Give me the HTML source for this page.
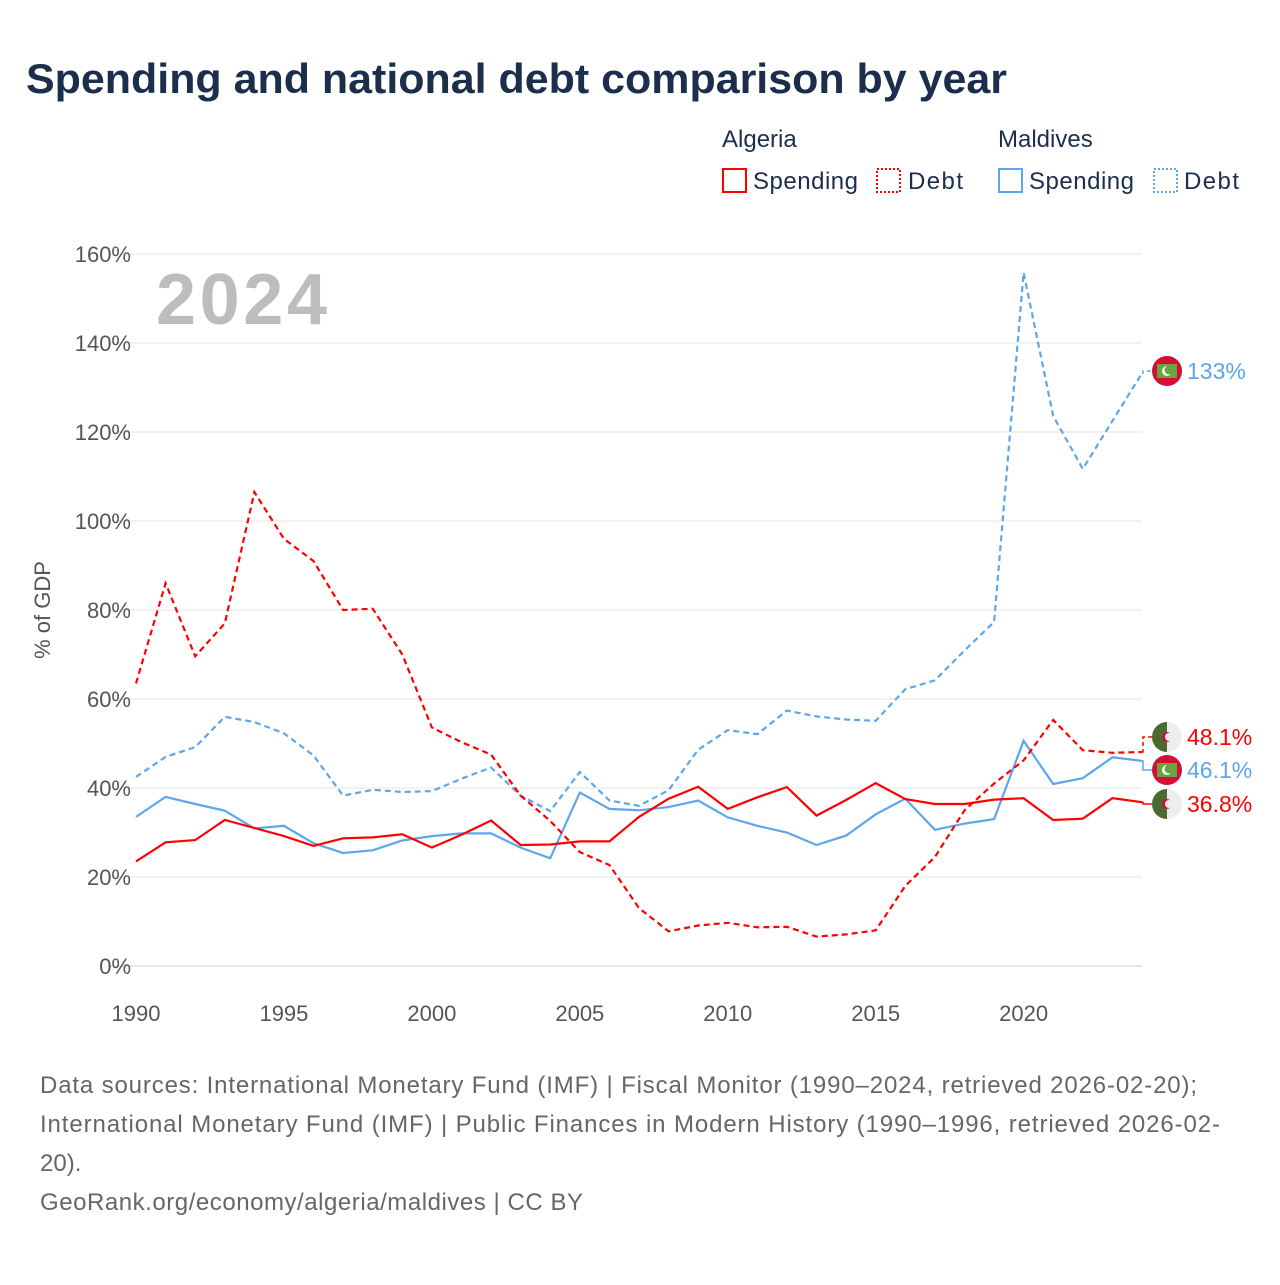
<!DOCTYPE html>
<html><head><meta charset="utf-8"><style>
body{margin:0;background:#fff;width:1280px;height:1280px;overflow:hidden;font-family:"Liberation Sans",sans-serif}
svg text{font-family:"Liberation Sans",sans-serif}
</style></head><body>
<svg id="chart" width="1280" height="1280" xmlns="http://www.w3.org/2000/svg">
<text x="26" y="93" font-size="42" font-weight="bold" fill="#1b2e4b" textLength="981" lengthAdjust="spacingAndGlyphs">Spending and national debt comparison by year</text>
<g font-size="24" fill="#1b2e4b">
<text x="722" y="147">Algeria</text><text x="998" y="147">Maldives</text>
<rect x="723" y="169" width="23" height="23" fill="none" stroke="#f00" stroke-width="2"/><text x="753" y="189" textLength="105">Spending</text>
<rect x="877" y="169" width="23" height="23" fill="none" stroke="#f00" stroke-width="2" stroke-dasharray="2,2"/><text x="908" y="189" textLength="55">Debt</text>
<rect x="999" y="169" width="23" height="23" fill="none" stroke="#5ea6ec" stroke-width="2"/><text x="1029" y="189" textLength="105">Spending</text>
<rect x="1154" y="169" width="23" height="23" fill="none" stroke="#5ea6ec" stroke-width="2" stroke-dasharray="2,2"/><text x="1184" y="189" textLength="55">Debt</text>
</g>
<text x="156" y="324" font-size="72" font-weight="bold" fill="#bdbdbd" textLength="171">2024</text>
<text transform="translate(50,610) rotate(-90)" text-anchor="middle" font-size="22" fill="#555">% of GDP</text>
<g id="grid"></g><g id="series"></g><g id="labels"></g>
<g font-size="24" fill="#666">
<text x="40" y="1093" textLength="1157">Data sources: International Monetary Fund (IMF) | Fiscal Monitor (1990–2024, retrieved 2026-02-20);</text>
<text x="40" y="1132" textLength="1180">International Monetary Fund (IMF) | Public Finances in Modern History (1990–1996, retrieved 2026-02-</text>
<text x="40" y="1171">20).</text>
<text x="40" y="1210" textLength="543">GeoRank.org/economy/algeria/maldives | CC BY</text>
</g>
</svg>
<script>
const years=[];for(let y=1990;y<=2024;y++)years.push(y);
const algSpending=[23.5,27.8,28.3,32.8,31,29.2,27,28.7,28.9,29.6,26.6,29.5,32.7,27.2,27.3,28,28,33.5,37.6,40.3,35.3,37.9,40.2,33.8,37.3,41.1,37.5,36.4,36.4,37.4,37.7,32.8,33.1,37.7,36.8];
const algDebt=[63.5,86,69.6,77,106.5,96,91,80,80.3,70,53.6,50.3,47.5,38.3,32.6,25.6,22.7,13,7.8,9.1,9.7,8.7,8.8,6.6,7.1,8,18,24.5,35,41,46.2,55.3,48.5,47.9,48.1];
const mdvSpending=[33.5,38,36.4,34.9,30.9,31.5,27.6,25.4,26,28.2,29.2,29.8,29.8,26.6,24.2,39,35.3,35,35.7,37.2,33.4,31.5,30,27.2,29.3,34.1,37.6,30.6,32,33,50.6,40.9,42.2,46.9,46.1];
const mdvDebt=[42.5,47,49.2,56,54.8,52.3,47.3,38.3,39.6,39.1,39.3,42.1,44.6,38.3,34.8,43.6,37.2,36,39.5,48.6,53,52.1,57.4,56.1,55.4,55.1,62.2,64.2,70.9,77.3,155.8,123.6,111.7,122.5,133.2];
const yTicks=[0,20,40,60,80,100,120,140,160];
const xTicks=[1990,1995,2000,2005,2010,2015,2020];
const NS='http://www.w3.org/2000/svg';
const X=y=>136+(y-1990)*(1142-136)/34;
const Y=v=>966-v*(966-254)/160;
function mk(t,a,p){const e=document.createElementNS(NS,t);for(const k in a)e.setAttribute(k,a[k]);p.appendChild(e);return e;}
const grid=document.getElementById('grid');
yTicks.forEach(v=>{
 const l=mk('line',{x1:108,x2:1142,y1:Y(v),y2:Y(v),stroke:v?'#e6e6e6':'#ccc','stroke-width':1},grid);
 
 
 const t=mk('text',{x:131,y:Y(v)+8,'text-anchor':'end','font-size':22,fill:'#555'},grid);t.textContent=v+'%';
 
 
});
xTicks.forEach(y=>{
 const t=mk('text',{x:X(y),y:1021,'text-anchor':'middle','font-size':22,fill:'#555'},grid);t.textContent=y;
 
 
});
const ser=document.getElementById('series');
function line(d,c,dash,name){
 const p=mk('path',{d:d.map((v,i)=>(i?'L':'M')+X(years[i]).toFixed(1)+','+Y(v).toFixed(1)).join(''),fill:'none',stroke:c,'stroke-width':2.2,'stroke-dasharray':dash||'none'},ser);
 
 
}
line(mdvDebt,'#5ea6ec','6,4','maldives-debt-line');
line(mdvSpending,'#5ea6ec','','maldives-spending-line');
line(algDebt,'#f00','6,4','algeria-debt-line');
line(algSpending,'#f00','','algeria-spending-line');
const lab=document.getElementById('labels');
function flag(cy,country,val,c,dash,name){
 const last=country==='dz'?(dash?algDebt:algSpending):(dash?mdvDebt:mdvSpending);
 const v=last[last.length-1];
 mk('path',{d:`M${X(2024)},${Y(v)} L1143,${Y(v)} L1143,${cy} L1152,${cy}`,fill:'none',stroke:c,'stroke-width':1.5,'stroke-dasharray':dash?'4,3':'none'},lab);
 const g=mk('g',{},lab);
 
 
 const cx=1167;
 if(country==='mv'){
  mk('circle',{cx,cy,r:15,fill:'#d21034'},g);
  mk('rect',{x:cx-10,y:cy-7,width:20,height:14,fill:'#6aa342'},g);
  mk('circle',{cx:cx,cy,r:5,fill:'#fff'},g);mk('circle',{cx:cx+2,cy:cy-1,r:4.5,fill:'#6aa342'},g);
 }else{
  mk('circle',{cx,cy,r:15,fill:'#eee'},g);
  mk('path',{d:`M${cx},${cy-15} A15,15 0 0,0 ${cx},${cy+15} Z`,fill:'#4a6b2f'},g);
  mk('circle',{cx,cy,r:5,fill:'#d21034'},g);mk('circle',{cx:cx+2,cy,r:4,fill:'#eee'},g);
 }
 const t=mk('text',{x:1187,y:cy+8,'font-size':23,fill:c},g);t.textContent=val;
}
flag(371,'mv','133%','#5ea6ec',true,'maldives-debt-label');
flag(737,'dz','48.1%','#f00',true,'algeria-debt-label');
flag(770,'mv','46.1%','#5ea6ec',false,'maldives-spending-label');
flag(804,'dz','36.8%','#f00',false,'algeria-spending-label');
</script>
</body></html>
